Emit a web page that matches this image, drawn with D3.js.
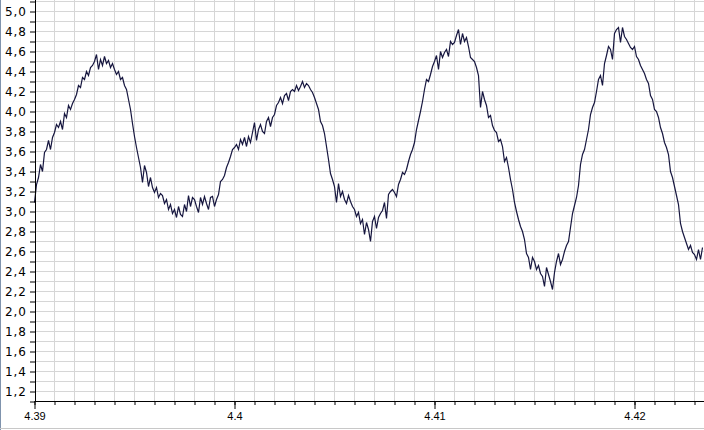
<!DOCTYPE html>
<html>
<head>
<meta charset="utf-8">
<script src="https://cdn.jsdelivr.net/npm/d3@7/dist/d3.min.js"></script>
<style>
  html, body { margin: 0; padding: 0; background: #ffffff; }
  svg { display: block; }
</style>
</head>
<body>
<svg id="chart" width="704" height="430"></svg>
<script>
// ---- data ----
const sampleStart = 4.39;     // time of first sample
const sampleStep = 0.0001;    // sampling interval
const voltage = [
  3.09,3.27,3.34,3.47,3.40,3.59,3.62,3.71,3.62,3.74,
  3.79,3.87,3.84,3.90,3.82,3.98,3.94,4.06,4.02,4.08,
  4.12,4.17,4.26,4.24,4.34,4.32,4.40,4.36,4.44,4.46,
  4.50,4.57,4.42,4.52,4.46,4.55,4.48,4.51,4.44,4.48,
  4.42,4.37,4.40,4.32,4.34,4.26,4.22,4.12,4.02,3.88,
  3.75,3.64,3.54,3.44,3.29,3.46,3.39,3.25,3.34,3.24,
  3.19,3.24,3.14,3.18,3.16,3.08,3.12,3.02,3.07,2.98,
  3.02,2.94,3.05,2.97,2.95,3.07,3.00,3.16,3.05,3.14,
  3.12,3.05,2.99,3.14,3.07,3.15,3.08,3.02,3.14,3.15,
  3.05,3.12,3.17,3.30,3.32,3.36,3.44,3.49,3.55,3.62,
  3.64,3.67,3.62,3.72,3.67,3.74,3.65,3.75,3.69,3.79,
  3.89,3.71,3.82,3.87,3.80,3.78,3.90,3.94,3.85,3.94,
  3.97,4.06,4.09,4.14,4.08,4.16,4.18,4.11,4.20,4.22,
  4.20,4.26,4.21,4.25,4.30,4.24,4.28,4.26,4.22,4.19,
  4.14,4.08,4.02,3.90,3.86,3.78,3.65,3.52,3.38,3.32,
  3.25,3.09,3.28,3.15,3.20,3.12,3.08,3.16,3.10,3.05,
  3.02,2.95,2.99,2.88,2.92,2.77,2.89,2.82,2.70,2.90,
  2.95,2.83,2.94,2.98,3.01,3.09,2.93,3.17,3.20,3.22,
  3.19,3.15,3.27,3.32,3.39,3.37,3.42,3.50,3.57,3.62,
  3.69,3.82,3.91,4.00,4.10,4.22,4.32,4.30,4.37,4.45,
  4.50,4.56,4.42,4.60,4.54,4.59,4.62,4.55,4.70,4.67,
  4.69,4.76,4.82,4.67,4.78,4.70,4.74,4.65,4.54,4.52,
  4.50,4.44,4.36,4.04,4.20,4.12,4.06,3.94,3.96,3.86,
  3.81,3.79,3.70,3.72,3.65,3.50,3.54,3.44,3.32,3.22,
  3.09,3.00,2.92,2.85,2.80,2.72,2.58,2.54,2.42,2.54,
  2.50,2.42,2.46,2.38,2.35,2.25,2.44,2.37,2.30,2.22,
  2.39,2.50,2.58,2.47,2.52,2.60,2.66,2.70,2.84,2.98,
  3.06,3.14,3.26,3.47,3.57,3.62,3.72,3.82,3.97,4.04,
  4.09,4.20,4.32,4.36,4.26,4.48,4.56,4.65,4.62,4.52,
  4.78,4.82,4.84,4.69,4.84,4.75,4.72,4.68,4.64,4.62,
  4.65,4.55,4.52,4.46,4.42,4.38,4.32,4.28,4.16,4.12,
  4.02,4.00,3.94,3.84,3.78,3.69,3.64,3.57,3.40,3.34,
  3.25,3.16,3.07,2.88,2.80,2.74,2.68,2.62,2.66,2.59,
  2.57,2.52,2.62,2.52,2.64
];
const yLabelTicks = [1.2,1.4,1.6,1.8,2.0,2.2,2.4,2.6,2.8,3.0,3.2,3.4,3.6,3.8,4.0,4.2,4.4,4.6,4.8,5.0];
const yLabels     = ["1,2","1,4","1,6","1,8","2,0","2,2","2,4","2,6","2,8","3,0","3,2","3,4","3,6","3,8","4,0","4,2","4,4","4,6","4,8","5,0"];
const xLabelTicks = [4.39, 4.40, 4.41, 4.42];
const xLabels     = ["4.39", "4.4", "4.41", "4.42"];
const xDomain = [4.39, 4.4235];
const yDomain = [1.1, 5.1];

// ---- drawing ----
const svg = d3.select("#chart");
const x = d3.scaleLinear().domain(xDomain).range([34.5, 704.5]);
const y = d3.scaleLinear().domain(yDomain).range([401.5, 1.5]);

const yMinor = d3.range(11, 52).map(d => +(d / 10).toFixed(1));
const xMinor = d3.range(0, 34).map(d => +(4.39 + d * 0.001).toFixed(3));

// grid
const grid = svg.append("g").attr("stroke", "#d6d6d6").attr("stroke-width", 1);
grid.selectAll("line.h").data(yMinor).join("line")
  .attr("x1", 35).attr("x2", 704)
  .attr("y1", d => Math.round(y(d) - 0.5) + 0.5).attr("y2", d => Math.round(y(d) - 0.5) + 0.5);
grid.selectAll("line.v").data(xMinor.slice(1)).join("line")
  .attr("y1", 0).attr("y2", 401)
  .attr("x1", d => Math.round(x(d) - 0.5) + 0.5).attr("x2", d => Math.round(x(d) - 0.5) + 0.5);

// series
const line = d3.line()
  .x((d, i) => x(sampleStart + i * sampleStep))
  .y(d => y(d));
svg.append("path")
  .datum(voltage)
  .attr("fill", "none")
  .attr("stroke", "#16163f")
  .attr("stroke-width", 1.2)
  .attr("stroke-linejoin", "miter")
  .attr("d", line);

// y axis
const yAxis = d3.axisLeft(y)
  .tickValues(yMinor)
  .tickSize(5)
  .tickPadding(3)
  .tickFormat(d => {
    const k = yLabelTicks.findIndex(v => Math.abs(v - d) < 1e-6);
    return k >= 0 ? yLabels[k] : "";
  });
const gy = svg.append("g").attr("transform", "translate(35,0)").call(yAxis);
gy.select(".domain").attr("stroke", "#000").attr("d", "M0.5,0V401.5");
gy.selectAll(".tick line").attr("stroke", "#000");
gy.selectAll(".tick text")
  .attr("font-family", "DejaVu Sans, Verdana, sans-serif")
  .attr("font-size", 12)
  .attr("letter-spacing", 1)
  .attr("fill", "#000");

// x axis: minor ticks
const xAxisMinor = d3.axisBottom(x).tickValues(xMinor).tickSize(4).tickFormat("");
const gxm = svg.append("g").attr("transform", "translate(0,401)").call(xAxisMinor);
gxm.select(".domain").attr("stroke", "#000").attr("d", "M35,0.5H704");
gxm.selectAll(".tick line").attr("stroke", "#000");

// x axis: labelled ticks
const xAxisMajor = d3.axisBottom(x).tickValues(xLabelTicks).tickSize(8).tickPadding(3)
  .tickFormat((d, i) => xLabels[i]);
const gx = svg.append("g").attr("transform", "translate(0,401)").call(xAxisMajor);
gx.select(".domain").remove();
gx.selectAll(".tick line").attr("stroke", "#000");
gx.selectAll(".tick text")
  .attr("font-family", "Liberation Sans, Arial, sans-serif")
  .attr("font-size", 11)
  .attr("fill", "#000");

// window frame hints
svg.append("line").attr("x1", 0.5).attr("x2", 0.5).attr("y1", 0).attr("y2", 430)
  .attr("stroke", "#7f93ad").attr("stroke-width", 1);
svg.append("line").attr("x1", 0).attr("x2", 704).attr("y1", 428.5).attr("y2", 428.5)
  .attr("stroke", "#c8c8c8").attr("stroke-width", 1);
</script>
</body>
</html>
